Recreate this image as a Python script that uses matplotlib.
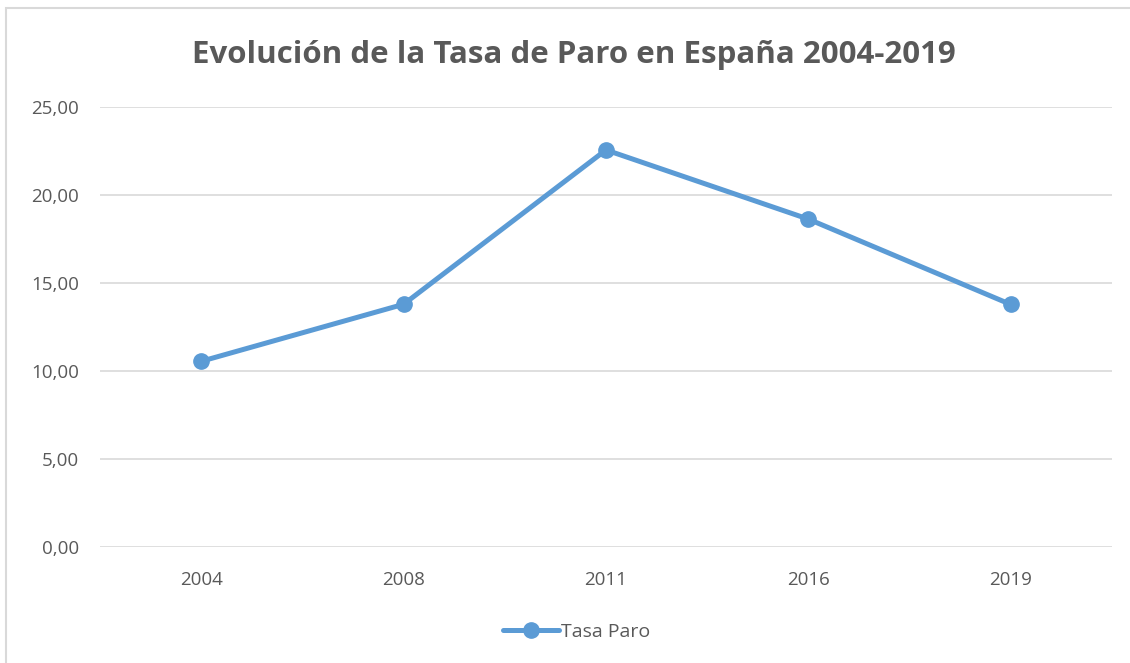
import matplotlib.pyplot as plt
from matplotlib.patches import Rectangle

# Datos: tasa de paro en España (%)
years = ['2004', '2008', '2011', '2016', '2019']
tasa_paro = [10.55, 13.79, 22.56, 18.63, 13.78]
y_ticks = [0, 5, 10, 15, 20, 25]

plt.rcParams['font.family'] = ['Open Sans', 'DejaVu Sans']

fig = plt.figure(figsize=(11.30, 6.63), dpi=100)
ax = fig.add_axes([0.0885, 0.175, 0.8955, 0.6636])

# borde del gráfico (solo visible arriba e izquierda)
fig.patches.append(Rectangle((6 / 1130, -0.1), 1.2, (663 - 8) / 663 + 0.1,
                             transform=fig.transFigure, fill=False,
                             edgecolor='#D9D9D9', linewidth=1.5))

x = range(len(years))
ax.plot(x, tasa_paro, color='#5B9BD5', linewidth=3.6, marker='o',
        markersize=11, label='Tasa Paro', solid_capstyle='round')

ax.set_xlim(-0.5, len(years) - 0.5)
ax.set_ylim(0, 25)
ax.set_yticks(y_ticks)
ax.set_yticklabels([f'{v:.2f}'.replace('.', ',') for v in y_ticks])
ax.set_xticks(list(x))
ax.set_xticklabels(years)

ax.grid(axis='y', color='#D9D9D9', linewidth=1.2)
ax.set_axisbelow(True)
for s in ax.spines.values():
    s.set_visible(False)
ax.tick_params(length=0, labelsize=13.5, colors='#595959')
ax.tick_params(axis='x', pad=17)
ax.tick_params(axis='y', pad=15)

fig.suptitle('Evolución de la Tasa de Paro en España 2004-2019', x=0.508, y=0.94,
             fontsize=22.5, fontweight='bold', color='#595959')

fig.legend(loc='center', bbox_to_anchor=(0.51, 0.047), frameon=False,
           fontsize=14, labelcolor='#595959', handlelength=2.9,
           handletextpad=0.1)

fig.savefig('out.png', dpi=100)
